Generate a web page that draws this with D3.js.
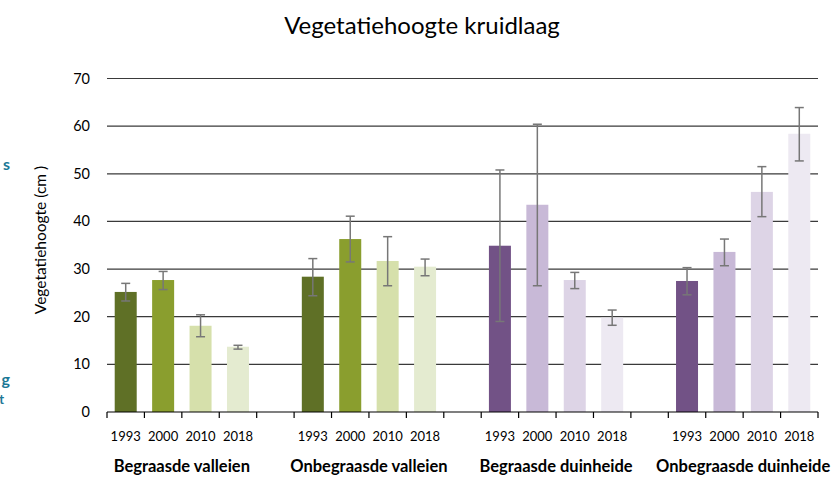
<!DOCTYPE html>
<html><head><meta charset="utf-8">
<script src="https://cdn.jsdelivr.net/npm/d3@7/dist/d3.min.js"></script>
<style>body{margin:0;background:#fff}svg{display:block;font-family:Lato,"Open Sans",sans-serif}</style>
</head><body><svg id="c" width="832" height="477"></svg>
<script>
const groups = ["Begraasde valleien","Onbegraasde valleien","Begraasde duinheide","Onbegraasde duinheide"];
const years = ["1993","2000","2010","2018"];
const means = [
  [25.2, 27.7, 18.1, 13.7],
  [28.4, 36.3, 31.7, 30.5],
  [34.9, 43.5, 27.7, 19.8],
  [27.5, 33.6, 46.2, 58.4]
];
const errHigh = [
  [27.0, 29.5, 20.4, 14.0],
  [32.2, 41.1, 36.8, 32.1],
  [50.8, 60.4, 29.3, 21.4],
  [30.3, 36.3, 51.5, 63.9]
];
const errLow = [
  [23.3, 25.7, 15.8, 13.2],
  [24.4, 31.5, 26.5, 28.6],
  [19.0, 26.5, 25.9, 18.2],
  [24.6, 30.7, 41.0, 52.7]
];
const yTicks = [0,10,20,30,40,50,60,70];
const colors = [
  ["#5f7026","#8a9e2e","#d6e0ab","#e4ebd0"],
  ["#5f7026","#8a9e2e","#d6e0ab","#e4ebd0"],
  ["#725286","#c8b9d7","#ddd4e6","#ede9f2"],
  ["#725286","#c8b9d7","#ddd4e6","#ede9f2"]
];

const svg = d3.select("#c");
const slots = [];
groups.forEach((g,gi)=>{ years.forEach((yr,yi)=>slots.push(gi+"-"+yi)); if(gi<groups.length-1) slots.push("gap"+gi); });
const x = d3.scaleBand().domain(slots).range([107,818]).paddingInner(0).paddingOuter(0);
const y = d3.scaleLinear().domain([0,70]).range([412,78.5]);

// title
svg.append("text").attr("x",422).attr("y",34).attr("text-anchor","middle")
  .attr("font-size",24).attr("fill","#000").text("Vegetatiehoogte kruidlaag");

// teal fragments at left edge
svg.append("text").attr("x",10).attr("y",170).attr("text-anchor","end").attr("font-size",16).attr("font-weight","bold").attr("fill","#1b7896").text("s");
svg.append("text").attr("x",10).attr("y",385).attr("text-anchor","end").attr("font-size",16).attr("font-weight","bold").attr("fill","#1b7896").text("g");
svg.append("text").attr("x",4).attr("y",404).attr("text-anchor","end").attr("font-size",13).attr("font-weight","bold").attr("fill","#1b7896").text("t");

// gridlines
svg.append("g").selectAll("line").data(yTicks.filter(d=>d>0)).join("line")
  .attr("x1",107).attr("x2",818).attr("y1",d=>y(d)).attr("y2",d=>y(d))
  .attr("stroke","#3a3a3a").attr("stroke-width",1.2);

// y labels
svg.append("g").selectAll("text").data(yTicks).join("text")
  .attr("x",90).attr("y",d=>y(d)+5).attr("text-anchor","end").attr("font-size",14.5).attr("fill","#000").text(d=>d);

// y title
svg.append("text").attr("transform","translate(46,240) rotate(-90)").attr("text-anchor","middle")
  .attr("font-size",15.5).attr("fill","#000").text("Vegetatiehoogte (cm )");

// bars
const bw = 22;
const data = [];
groups.forEach((g,gi)=>years.forEach((yr,yi)=>data.push({gi,yi,key:gi+"-"+yi,v:means[gi][yi],hi:errHigh[gi][yi],lo:errLow[gi][yi]})));
svg.append("g").selectAll("rect").data(data).join("rect")
  .attr("x",d=>x(d.key)+x.bandwidth()/2-bw/2).attr("width",bw)
  .attr("y",d=>y(d.v)).attr("height",d=>y(0)-y(d.v))
  .attr("fill",d=>colors[d.gi][d.yi]);

// error bars
const eb = svg.append("g").attr("stroke","#777").attr("stroke-width",1.5).attr("fill","none");
data.forEach(d=>{
  const cx = x(d.key)+x.bandwidth()/2;
  eb.append("line").attr("x1",cx).attr("x2",cx).attr("y1",y(d.hi)).attr("y2",y(d.lo));
  eb.append("line").attr("x1",cx-4.5).attr("x2",cx+4.5).attr("y1",y(d.hi)).attr("y2",y(d.hi));
  eb.append("line").attr("x1",cx-4.5).attr("x2",cx+4.5).attr("y1",y(d.lo)).attr("y2",y(d.lo));
});

// x axis
const ax = svg.append("g").attr("stroke","#000").attr("stroke-width",1.2);
ax.append("line").attr("x1",107).attr("x2",818).attr("y1",412).attr("y2",412);
const bounds = slots.map(s=>x(s)).concat([818]);
ax.selectAll("line.t").data(bounds).join("line").attr("class","t")
  .attr("x1",d=>d).attr("x2",d=>d).attr("y1",412).attr("y2",418);

// year labels
svg.append("g").selectAll("text").data(data).join("text")
  .attr("x",d=>x(d.key)+x.bandwidth()/2).attr("y",441).attr("text-anchor","middle")
  .attr("font-size",13).attr("fill","#000").text(d=>years[d.yi]);

// group labels
svg.append("g").selectAll("text").data(groups).join("text")
  .attr("x",(g,gi)=>(x(gi+"-0")+x(gi+"-3")+x.bandwidth())/2).attr("y",472).attr("text-anchor","middle")
  .attr("font-size",16.5).attr("font-weight","bold").attr("fill","#000").text(g=>g);
</script></body></html>
